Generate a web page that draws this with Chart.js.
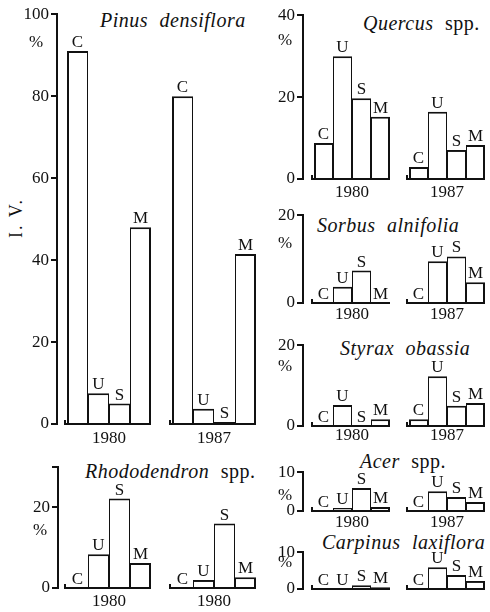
<!DOCTYPE html>
<html>
<head>
<meta charset="utf-8">
<script src="https://cdn.jsdelivr.net/npm/chart.js@4.4.1/dist/chart.umd.min.js"></script>
<style>
    body {
        margin: 0;
        width: 490px;
        height: 612px;
        position: relative;
        overflow: hidden;
        background: #fff;
        color: #111;
        font-family: "Liberation Serif", serif;
    }
    .panel { position: absolute; }
    .axisPart { position: absolute; background: #111; z-index: 5; }
    .title {
        position: absolute;
        font-size: 20px;
        line-height: 22px;
        white-space: nowrap;
        letter-spacing: 0.5px;
        word-spacing: 6px;
    }
    #ivLabel {
        position: absolute;
        left: -14px;
        top: 207px;
        width: 60px;
        text-align: center;
        font-size: 18px;
        line-height: 22px;
        letter-spacing: 2px;
        transform: rotate(-90deg);
    }
</style>
</head>
<body>
<div id="ivLabel">I. V.</div>
<div class="title" style="left:100px; top:9px;"><i>Pinus densiflora</i></div>
<div class="title" style="left:85px; top:460px;"><i>Rhododendron</i> spp.</div>
<div class="title" style="left:363px; top:12px;"><i>Quercus</i> spp.</div>
<div class="title" style="left:317px; top:214px;"><i>Sorbus alnifolia</i></div>
<div class="title" style="left:340px; top:337px;"><i>Styrax obassia</i></div>
<div class="title" style="left:360px; top:450px;"><i>Acer</i> spp.</div>
<div class="title" style="left:322px; top:531px;"><i>Carpinus laxiflora</i></div>

<script>
// crown classes, the same four in every group
const categories = ['C', 'U', 'S', 'M'];

const pinusYears = ['1980', '1987'];
const pinusValues = [91, 7.5, 5, 48, 80, 3.7, 0.5, 41.5];
const pinusTicks = [0, 20, 40, 60, 80, 100];
const pinusTickLabels = ['0', '20', '40', '60', '80', '100'];

const rhodoYears = ['1980', '1980'];
const rhodoValues = [0, 8.4, 22.2, 6.2, 0, 2, 16, 2.7];
const rhodoTicks = [0, 20, 30];
const rhodoTickLabels = ['0', '20', ''];

const quercusYears = ['1980', '1987'];
const quercusValues = [8.8, 30, 19.7, 15.2, 2.9, 16.4, 7.1, 8.3];
const quercusTicks = [0, 20, 40];
const quercusTickLabels = ['0', '20', '40'];

const sorbusYears = ['1980', '1987'];
const sorbusValues = [0, 3.7, 7.4, 0, 0, 9.5, 10.6, 4.7];
const sorbusTicks = [0, 20];
const sorbusTickLabels = ['0', '20'];

const styraxYears = ['1980', '1987'];
const styraxValues = [0, 5.2, 0, 1.7, 1.7, 12.3, 5, 5.7];
const styraxTicks = [0, 20];
const styraxTickLabels = ['0', '20'];

const acerYears = ['1980', '1987'];
const acerValues = [0, 0.8, 5.9, 1, 0, 5.1, 3.6, 2.3];
const acerTicks = [0, 10];
const acerTickLabels = ['0', '10'];

const carpinusYears = ['1980', '1987'];
const carpinusValues = [0, 0, 1, 0.5, 0, 5.9, 3.8, 2.2];
const carpinusTicks = [0, 10];
const carpinusTickLabels = ['0', '10'];

const AXIS_W = 50;      // canvas left edge to the axis line
const AXIS_INSET = 6;   // axis line sits this far inside the chart area
const PAD_TOP = 12;
const PAD_RIGHT = 4;
const PAD_BOTTOM = 30;
const INK = '#111';
const SERIF = '"Liberation Serif", serif';

// baselines, letters above bars, years and the % sign
const panelDecor = {
    id: 'panelDecor',
    afterDraw(chart, args, opts) {
        const ctx = chart.ctx;
        const bars = chart.getDatasetMeta(0).data;
        const yScale = chart.scales.y;
        const y0 = yScale.getPixelForValue(0);
        const axisX = chart.chartArea.left + AXIS_INSET;
        ctx.save();
        ctx.strokeStyle = INK;
        ctx.fillStyle = INK;
        for (let g = 0; g < opts.years.length; g++) {
            const first = bars[g * 4];
            const last = bars[g * 4 + 3];
            const x1 = first.x - first.width / 2 - 2;
            const x2 = last.x + last.width / 2;
            ctx.lineWidth = 2;
            ctx.beginPath();
            ctx.moveTo(x1, y0 - 4);
            ctx.lineTo(x1, y0);
            ctx.lineTo(x2, y0);
            ctx.stroke();
            if (opts.showYears) {
                ctx.font = '17px ' + SERIF;
                ctx.textAlign = 'center';
                ctx.textBaseline = 'middle';
                ctx.fillText(opts.years[g], (first.x + last.x) / 2, y0 + opts.yearGap);
            }
        }
        ctx.font = '17px ' + SERIF;
        ctx.textAlign = 'center';
        ctx.textBaseline = 'alphabetic';
        for (let i = 0; i < bars.length; i++) {
            ctx.fillText(categories[i % 4], bars[i].x, bars[i].y - 4);
        }
        ctx.textBaseline = 'middle';
        ctx.fillText('%', axisX - opts.pctShift, yScale.getPixelForValue(opts.pctAt) + opts.pctGap);
        ctx.restore();
    }
};

function areaWidth(box) {
    return AXIS_INSET + box.gap + 9 * box.unit + 6;
}

function addCanvas(id, box) {
    let holder = document.createElement('div');
    holder.className = 'panel';
    holder.style.left = (box.axisX - AXIS_W) + 'px';
    holder.style.top = (box.top - PAD_TOP) + 'px';
    holder.style.width = (AXIS_W - AXIS_INSET + areaWidth(box) + PAD_RIGHT) + 'px';
    holder.style.height = (PAD_TOP + box.bottom - box.top + PAD_BOTTOM) + 'px';
    let canvas = document.createElement('canvas');
    canvas.id = id;
    holder.appendChild(canvas);
    document.body.appendChild(holder);
    return canvas;
}

function addAxisPart(x, y, w, h) {
    let part = document.createElement('div');
    part.className = 'axisPart';
    part.style.left = x + 'px';
    part.style.top = y + 'px';
    part.style.width = w + 'px';
    part.style.height = h + 'px';
    document.body.appendChild(part);
}

// the y axis line and its tick marks, placed from the chart's own y scale
function drawAxis(chart, ticks) {
    const holder = chart.canvas.parentNode;
    const yScale = chart.scales.y;
    const offX = holder.offsetLeft;
    const offY = holder.offsetTop;
    const x = Math.round(offX + chart.chartArea.left + AXIS_INSET);
    const yTop = Math.round(offY + yScale.getPixelForValue(ticks[ticks.length - 1]));
    const yBottom = Math.round(offY + yScale.getPixelForValue(0));
    addAxisPart(x - 1, yTop - 1, 2, yBottom - yTop + 2);
    for (let t = 0; t < ticks.length; t++) {
        const ty = Math.round(offY + yScale.getPixelForValue(ticks[t]));
        addAxisPart(x - 6, ty - 1, 6, 2);
    }
}

function toPoints(values) {
    // two groups of four bars with one empty slot between them
    return values.map((v, i) => ({ x: i < 4 ? i : i + 1, y: v }));
}

function createPanel(id, values, years, ticks, tickLabels, box) {
    const canvas = addCanvas(id, box);
    const xMin = -0.5 - (AXIS_INSET + box.gap) / box.unit;
    const xMax = xMin + areaWidth(box) / box.unit;
    const chart = new Chart(canvas.getContext('2d'), {
        type: 'bar',
        data: {
            datasets: [{
                data: toPoints(values),
                backgroundColor: '#fff',
                borderColor: INK,
                borderSkipped: 'start',
                inflateAmount: 0,
                clip: false,
                borderWidth: (c) => ({
                    top: 2,
                    left: c.dataIndex % 4 === 0 ? 2 : 1,
                    right: c.dataIndex % 4 === 3 ? 2 : 1,
                    bottom: 0
                }),
                barPercentage: 1,
                categoryPercentage: 1
            }]
        },
        options: {
            animation: false,
            responsive: true,
            maintainAspectRatio: false,
            layout: { padding: { top: PAD_TOP, right: PAD_RIGHT, bottom: PAD_BOTTOM, left: 0 } },
            scales: {
                x: {
                    type: 'linear', min: xMin, max: xMax, offset: false,
                    grid: { offset: false },
                    display: false
                },
                y: {
                    min: 0,
                    max: ticks[ticks.length - 1],
                    afterBuildTicks: (s) => { s.ticks = ticks.map(v => ({ value: v })); },
                    afterFit: (s) => { s.width = AXIS_W - AXIS_INSET; },
                    ticks: {
                        callback: (v) => tickLabels[ticks.indexOf(v)],
                        color: INK,
                        padding: 2,
                        font: { family: SERIF, size: 17 }
                    },
                    grid: { display: false, drawTicks: false },
                    border: { display: false }
                }
            },
            plugins: {
                legend: { display: false },
                tooltip: { enabled: false },
                panelDecor: {
                    years: years,
                    showYears: box.showYears !== false,
                    yearGap: box.yearGap,
                    pctAt: box.pctAt,
                    pctGap: box.pctGap,
                    pctShift: box.pctShift || 18
                }
            }
        },
        plugins: [panelDecor]
    });
    drawAxis(chart, ticks);
    return chart;
}

createPanel('pinus', pinusValues, pinusYears, pinusTicks, pinusTickLabels,
    { axisX: 57, top: 14, bottom: 424, gap: 10, unit: 21, yearGap: 15, pctAt: 100, pctGap: 28, pctShift: 21 });
createPanel('rhodo', rhodoValues, rhodoYears, rhodoTicks, rhodoTickLabels,
    { axisX: 58, top: 467, bottom: 588, gap: 9, unit: 21, yearGap: 14, pctAt: 20, pctGap: 23 });
createPanel('quercus', quercusValues, quercusYears, quercusTicks, quercusTickLabels,
    { axisX: 303, top: 15, bottom: 179, gap: 11, unit: 19, yearGap: 14, pctAt: 40, pctGap: 25 });
createPanel('sorbus', sorbusValues, sorbusYears, sorbusTicks, sorbusTickLabels,
    { axisX: 303, top: 215, bottom: 303, gap: 11, unit: 19, yearGap: 12, pctAt: 20, pctGap: 28 });
createPanel('styrax', styraxValues, styraxYears, styraxTicks, styraxTickLabels,
    { axisX: 303, top: 345, bottom: 426, gap: 11, unit: 19, yearGap: 10, pctAt: 20, pctGap: 21 });
createPanel('acer', acerValues, acerYears, acerTicks, acerTickLabels,
    { axisX: 303, top: 472, bottom: 511, gap: 11, unit: 19, yearGap: 12, pctAt: 10, pctGap: 23 });
createPanel('carpinus', carpinusValues, carpinusYears, carpinusTicks, carpinusTickLabels,
    { axisX: 303, top: 552, bottom: 589, gap: 11, unit: 19, yearGap: 12, pctAt: 10, pctGap: 10, showYears: false });
</script>
</body>
</html>
